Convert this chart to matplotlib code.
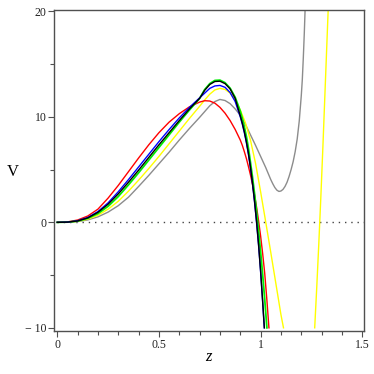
import numpy as np
import matplotlib
matplotlib.use("Agg")
import matplotlib.pyplot as plt
from matplotlib.ticker import MultipleLocator, FixedLocator

# curves (z, V)
z_rise = [0, 0.05, 0.1, 0.15, 0.2, 0.25, 0.3, 0.35, 0.4, 0.45, 0.5, 0.55, 0.6, 0.65, 0.7, 0.725, 0.75, 0.775, 0.8, 0.825, 0.85, 0.875]

red_z = z_rise + [0.9, 0.91, 0.92, 0.93, 0.94, 0.95, 0.96, 0.97, 0.98, 0.99, 1.0, 1.01, 1.02, 1.03, 1.041]
red_v = [0, 0.04, 0.22, 0.6, 1.25, 2.3, 3.5, 4.8, 6.1, 7.35, 8.5, 9.5, 10.3, 10.95, 11.4, 11.53, 11.5, 11.3, 10.9, 10.35, 9.65, 8.8,
         7.8, 7.3, 6.7, 6.05, 5.3, 4.5, 3.6, 2.6, 1.45, 0.15, -1.3, -2.95, -4.8, -7.15, -10]

green_z = z_rise + [0.9, 0.91, 0.92, 0.93, 0.94, 0.95, 0.96, 0.97, 0.98, 0.99, 1.0, 1.01, 1.02, 1.031]
green_v = [0, 0.02, 0.12, 0.38, 0.83, 1.52, 2.45, 3.55, 4.7, 5.9, 7.1, 8.3, 9.5, 10.65, 11.75, 12.59, 13.15, 13.45, 13.48, 13.24, 12.72, 11.85,
           10.55, 9.85, 9.05, 8.15, 7.05, 5.7, 4.3, 2.75, 1.05, -0.8, -2.8, -4.95, -7.25, -10]

black_z = z_rise + [0.9, 0.91, 0.92, 0.93, 0.94, 0.95, 0.96, 0.97, 0.98, 0.99, 1.0, 1.01, 1.0185]
black_v = [0, 0.02, 0.13, 0.42, 0.95, 1.72, 2.7, 3.8, 4.95, 6.15, 7.35, 8.5, 9.65, 10.75, 11.75, 12.52, 13.07, 13.35, 13.38, 13.15, 12.65, 11.75,
           10.1, 9.4, 8.6, 7.65, 6.55, 5.25, 3.75, 2.05, 0.1, -2.1, -4.6, -7.45, -10]

blue_z = z_rise + [0.9, 0.91, 0.92, 0.93, 0.94, 0.95, 0.96, 0.97, 0.98, 0.99, 1.0, 1.01, 1.018]
blue_v = [0, 0.02, 0.15, 0.46, 1.02, 1.85, 2.9, 4.05, 5.25, 6.45, 7.65, 8.8, 9.9, 10.9, 11.8, 12.25, 12.7, 12.93, 12.98, 12.8, 12.3, 11.45,
          10.0, 9.3, 8.5, 7.55, 6.45, 5.15, 3.65, 1.95, 0.0, -2.2, -4.7, -7.55, -10]

yellow_z = z_rise + [0.9, 0.925, 0.95, 0.975, 1.0, 1.025, 1.05, 1.075, 1.1, 1.1125,
                     np.nan, 1.266, 1.276, 1.286, 1.296, 1.306, 1.316, 1.326, 1.332]
yellow_v = [0, 0.02, 0.1, 0.3, 0.68, 1.25, 2.0, 2.95, 4.0, 5.1, 6.25, 7.45, 8.65, 9.85, 11.0, 11.6, 12.15, 12.55, 12.7, 12.6, 12.25, 11.6,
            10.65, 9.45, 7.8, 5.6, 2.9, 0.05, -2.85, -5.8, -8.75, -10,
            np.nan, -10, -6.2, -2.1, 2.3, 7.0, 12.0, 17.0, 20]

gray_z = z_rise + [0.9, 0.925, 0.95, 0.975, 1.0, 1.025, 1.05, 1.06, 1.07, 1.08, 1.09, 1.1, 1.11, 1.12, 1.13, 1.14, 1.15, 1.16, 1.17,
                   1.18, 1.19, 1.2, 1.205, 1.21, 1.215, 1.2185]
gray_v = [0, 0.01, 0.07, 0.23, 0.52, 0.97, 1.58, 2.38, 3.4, 4.45, 5.55, 6.65, 7.8, 8.9, 9.95, 10.5, 11.05, 11.45, 11.65, 11.55, 11.25, 10.75,
          10.15, 9.3, 8.3, 7.3, 6.25, 5.2, 4.05, 3.65, 3.3, 3.05, 2.93, 2.97, 3.12, 3.4, 3.8, 4.35, 5.0, 5.75, 6.7,
          7.9, 9.6, 12.0, 13.5, 15.6, 18.0, 20]

x_ticks = [0, 0.5, 1, 1.5]
y_ticks = [-10, 0, 10, 20]


def main():
    plt.rcParams['font.family'] = ['Liberation Serif', 'DejaVu Serif']
    fig = plt.figure(figsize=(3.74, 3.74), dpi=100)
    ax = fig.add_axes([0.145, 0.115, 0.828, 0.858])

    ax.hlines(0, 0, 1.508, color='#444444', lw=1.0, ls=(0, (1, 3.5)), zorder=1)

    lw = 1.0
    ax.plot(gray_z, gray_v, color='#8c8c8c', lw=lw)
    ax.plot(yellow_z, yellow_v, color='#ffff00', lw=lw)
    ax.plot(red_z, red_v, color='#ff0000', lw=lw)
    ax.plot(green_z, green_v, color='#00ee00', lw=lw * 1.3)
    ax.plot(blue_z, blue_v, color='#0000ff', lw=lw)
    ax.plot(black_z, black_v, color='#000000', lw=lw)

    ax.set_xlim(-0.015, 1.508)
    ax.set_ylim(-10.3, 20.12)

    ax.xaxis.set_major_locator(FixedLocator(x_ticks))
    ax.xaxis.set_minor_locator(MultipleLocator(0.1))
    ax.yaxis.set_major_locator(FixedLocator(y_ticks))
    ax.yaxis.set_minor_locator(MultipleLocator(5))
    ax.set_xticklabels(['0', '0.5', '1', '1.5'])
    ax.set_yticklabels(['\u2212 10', '0', '10', '20'])

    for s in ax.spines.values():
        s.set_color('#505050')
        s.set_linewidth(1.0)
    ax.tick_params(which='both', direction='out', color='#505050', width=0.8,
                   labelsize=8.5, labelcolor='#222222', pad=1.5)
    ax.tick_params(which='major', length=4)
    ax.tick_params(which='minor', length=3)

    fig.text(13 / 374, 1 - 172 / 374, 'V', fontsize=12, ha='center', va='center')
    fig.text(208 / 374, 1 - 357 / 374, 'z', fontsize=12, style='italic', ha='center', va='center')

    fig.savefig('out.png', dpi=100)


if __name__ == '__main__':
    main()
